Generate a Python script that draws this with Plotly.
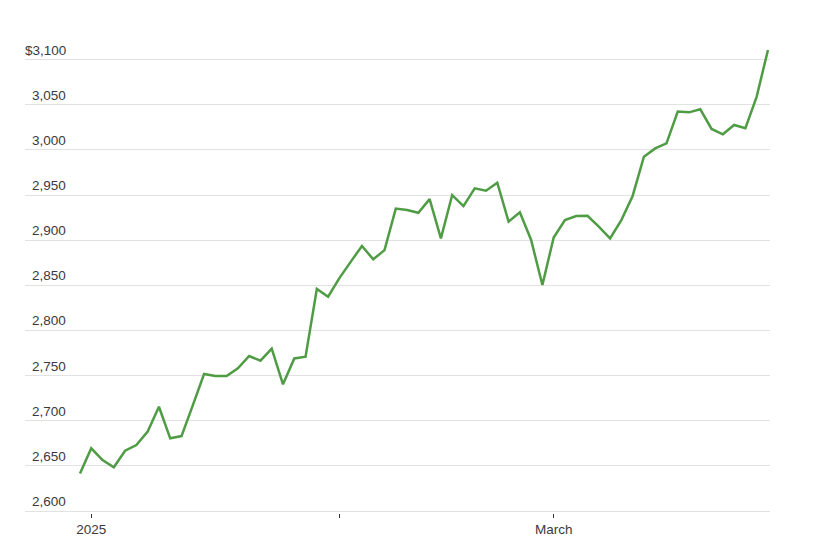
import plotly.graph_objects as go

dates = [
    "2024-12-31",
    "2025-01-02", "2025-01-03", "2025-01-06", "2025-01-07", "2025-01-08", "2025-01-09", "2025-01-10",
    "2025-01-13", "2025-01-14", "2025-01-15", "2025-01-16", "2025-01-17",
    "2025-01-20", "2025-01-21", "2025-01-22", "2025-01-23", "2025-01-24",
    "2025-01-27", "2025-01-28", "2025-01-29", "2025-01-30", "2025-01-31",
    "2025-02-03", "2025-02-04", "2025-02-05", "2025-02-06", "2025-02-07",
    "2025-02-10", "2025-02-11", "2025-02-12", "2025-02-13", "2025-02-14",
    "2025-02-18", "2025-02-19", "2025-02-20", "2025-02-21",
    "2025-02-24", "2025-02-25", "2025-02-26", "2025-02-27", "2025-02-28",
    "2025-03-03", "2025-03-04", "2025-03-05", "2025-03-06", "2025-03-07",
    "2025-03-10", "2025-03-11", "2025-03-12", "2025-03-13", "2025-03-14",
    "2025-03-17", "2025-03-18", "2025-03-19", "2025-03-20", "2025-03-21",
    "2025-03-24", "2025-03-25", "2025-03-26", "2025-03-27", "2025-03-28",
]

prices = [
    2641.5,
    2669.5, 2656.5, 2648.4, 2666.8, 2673.0, 2688.0, 2715.5,
    2680.5, 2683.0, 2717.0, 2751.8, 2749.5,
    2749.5, 2758.0, 2771.7, 2766.5, 2779.8,
    2740.3, 2769.0, 2771.0, 2846.0, 2837.4,
    2858.0, 2876.0, 2893.6, 2878.8, 2889.0,
    2935.0, 2933.4, 2930.4, 2945.5, 2902.0,
    2950.0, 2937.8, 2957.4, 2954.8,
    2963.7, 2920.5, 2930.9, 2900.2, 2850.4,
    2903.0, 2922.3, 2926.7, 2927.0, 2915.0,
    2902.0, 2922.3, 2949.0, 2992.5, 3001.7,
    3007.2, 3042.5, 3041.6, 3045.0, 3023.2,
    3017.3, 3027.6, 3024.0, 3059.0, 3110.7,
]

x_tick_dates = ["2025-01-02", "2025-02-03", "2025-03-03"]
x_tick_labels = ["2025", "", "March"]

y_ticks = [2600, 2650, 2700, 2750, 2800, 2850, 2900, 2950, 3000, 3050, 3100]
y_tick_labels = ["2,600", "2,650", "2,700", "2,750", "2,800", "2,850",
                 "2,900", "2,950", "3,000", "3,050", "$3,100"]

FONT = "Liberation Sans"
TXT = "#3a3a3a"

fig = go.Figure()
fig.add_trace(go.Scatter(
    x=dates, y=prices, mode="lines",
    line=dict(color="#4f9c45", width=2.5),
    hoverinfo="x+y",
))

# page body has an 8px margin; figure sized to fit the window
W, H = 800, 536
left, right = 17, 762
top, bottom = 37, 505

fig.update_layout(
    width=W, height=H,
    margin=dict(l=left, r=W - right, t=top, b=H - bottom, autoexpand=False),
    paper_bgcolor="white", plot_bgcolor="white",
    showlegend=False,
    font=dict(family=FONT, size=14, color=TXT),
    xaxis=dict(
        type="category", automargin=False,
        range=[-4.876, 61.18],
        showgrid=False, zeroline=False, showline=False,
        tickmode="array", tickvals=x_tick_dates, ticktext=x_tick_labels,
        ticks="outside", ticklen=4, tickwidth=1, tickcolor="#333333",
        tickfont=dict(family=FONT, size=13.5, color=TXT),
    ),
    yaxis=dict(
        automargin=False,
        range=[2597.8, 3116.2],
        tickmode="array", tickvals=y_ticks,
        showticklabels=False,
        showgrid=True, gridcolor="#e2e2e2", gridwidth=1,
        zeroline=False, showline=False, ticks="",
    ),
)

label_x = (60 - left) / (right - left)
for v, t in zip(y_ticks, y_tick_labels):
    fig.add_annotation(
        x=label_x, xref="paper", y=v, yref="y",
        text=t, showarrow=False, xanchor="right", yanchor="bottom",
        font=dict(family=FONT, size=13.5, color=TXT),
    )

fig.write_html("out.html")
